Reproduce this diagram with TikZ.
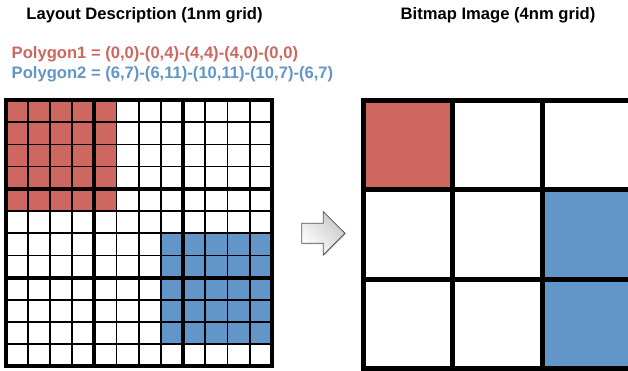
\documentclass[tikz,border=0pt]{standalone}
\usepackage{fontspec}
\setmainfont{Liberation Sans}
\usetikzlibrary{shadows}
\definecolor{polyred}{RGB}{205,103,96}
\definecolor{polyblue}{RGB}{98,150,200}
\definecolor{arrowedge}{RGB}{80,80,80}
\tikzset{
  heading/.style={font=\bfseries\fontsize{16.6}{19}\selectfont, inner sep=0pt, anchor=base},
  polytext/.style={font=\bfseries\fontsize{16.6}{19}\selectfont, inner sep=0pt, anchor=base west},
  fineline/.style={line width=1.7pt, line cap=rect},
  coarseline/.style={line width=4pt, line cap=rect},
  bitline/.style={line width=5pt, line cap=rect},
}
\begin{document}
\begin{tikzpicture}[x=1pt,y=-1pt]
\clip (0,0) rectangle (628,370);
\fill[white] (0,0) rectangle (628,370);

% headings and polygon descriptions
\node[heading] (lefttitle) at (144.5,19) {Layout Description (1nm grid)};
\node[heading] (righttitle) at (498,19) {Bitmap Image (4nm grid)};
\node[polytext, text=polyred] (poly1) at (11.5,58.5) {Polygon1 = (0,0)-(0,4)-(4,4)-(4,0)-(0,0)};
\node[polytext, text=polyblue] (poly2) at (11.5,78.5) {Polygon2 = (6,7)-(6,11)-(10,11)-(10,7)-(6,7)};

% 1nm layout grid
\def\lx{5.5}\def\ly{100}\def\ls{22.2}
\fill[polyred] (\lx,\ly) rectangle ({\lx+5*\ls},{\ly+5*\ls});
\fill[polyblue] ({\lx+7*\ls},{\ly+6*\ls}) rectangle ({\lx+12*\ls},{\ly+11*\ls});
\foreach \i in {1,2,3,5,6,7,9,10,11}{
  \draw[fineline] ({\lx+\i*\ls},\ly) -- ({\lx+\i*\ls},{\ly+12*\ls});
  \draw[fineline] (\lx,{\ly+\i*\ls}) -- ({\lx+12*\ls},{\ly+\i*\ls});
}
\foreach \i in {0,4,8,12}{
  \draw[coarseline] ({\lx+\i*\ls},\ly) -- ({\lx+\i*\ls},{\ly+12*\ls});
  \draw[coarseline] (\lx,{\ly+\i*\ls}) -- ({\lx+12*\ls},{\ly+\i*\ls});
}

% conversion arrow
\draw[arrowedge, line width=0.8pt, line join=miter, left color=white, right color=black!22,
      shading angle=135, drop shadow={shadow xshift=1pt, shadow yshift=-1pt, opacity=0.25}]
  (301.7,223.3) -- (323.3,223.3) -- (323.3,211.7) -- (345,233.3)
  -- (323.3,255) -- (323.3,243.3) -- (301.7,243.3) -- cycle;

% 4nm bitmap grid
\def\rx{363.5}\def\ry{100.5}\def\rs{89.3}
\fill[polyred] (\rx,\ry) rectangle ({\rx+\rs},{\ry+\rs});
\fill[polyblue] ({\rx+2*\rs},{\ry+\rs}) rectangle ({\rx+3*\rs},{\ry+3*\rs});
\foreach \i in {0,1,2,3}{
  \draw[bitline] ({\rx+\i*\rs},\ry) -- ({\rx+\i*\rs},{\ry+3*\rs});
  \draw[bitline] (\rx,{\ry+\i*\rs}) -- ({\rx+3*\rs},{\ry+\i*\rs});
}
\end{tikzpicture}
\end{document}
